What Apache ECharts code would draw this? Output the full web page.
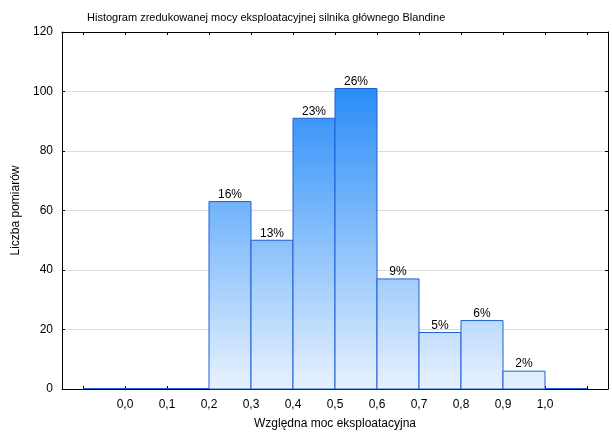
<!DOCTYPE html>
<html>
<head>
<meta charset="utf-8">
<script src="https://cdn.jsdelivr.net/npm/echarts@6/dist/echarts.min.js"></script>
<style>html,body{margin:0;padding:0;background:#fff;}#c{width:612px;height:435px;}</style>
</head>
<body>
<div id="c"></div>
<script>
var binStarts = [-0.1, 0.0, 0.1, 0.2, 0.3, 0.4, 0.5, 0.6, 0.7, 0.8, 0.9, 1.0];
var binEnds   = [0.0, 0.1, 0.2, 0.3, 0.4, 0.5, 0.6, 0.7, 0.8, 0.9, 1.0, 1.1];
var counts    = [0, 0, 0, 63, 50, 91, 101, 37, 19, 23, 6, 0];
var percents  = [null, null, null, 16, 13, 23, 26, 9, 5, 6, 2, null];
var xLabelValues = [0.0, 0.1, 0.2, 0.3, 0.4, 0.5, 0.6, 0.7, 0.8, 0.9, 1.0];
var xTickValues = [-0.1, 0.0, 0.1, 0.2, 0.3, 0.4, 0.5, 0.6, 0.7, 0.8, 0.9, 1.0, 1.1];

var FONT = 'Liberation Sans, Arial, sans-serif';
var chart = echarts.init(document.getElementById('c'));

var data = binStarts.map(function (s, i) { return [s, binEnds[i], counts[i], percents[i]]; });

var fillGrad = new echarts.graphic.LinearGradient(0, 88, 0, 389, [
  {offset: 0, color: '#2a8cf7'},
  {offset: 0.4, color: '#74b5fb'},
  {offset: 1, color: '#e8f2fe'}
], true);

function renderItem(params, api) {
  var x0 = api.value(0), x1 = api.value(1), v = api.value(2), p = api.value(3);
  var tl = api.coord([x0, v]);
  var br = api.coord([x1, 0]);
  var children = [];
  if (v > 0) {
    children.push({
      type: 'rect',
      shape: {x: tl[0], y: tl[1], width: br[0] - tl[0], height: br[1] - tl[1]},
      style: {fill: fillGrad, stroke: '#1f5ed6', lineWidth: 1}
    });
  } else {
    children.push({
      type: 'line',
      shape: {x1: tl[0], y1: br[1] - 0.5, x2: br[0], y2: br[1] - 0.5},
      style: {stroke: '#1f5ed6', lineWidth: 1}
    });
  }
  if (p != null && !isNaN(p)) {
    children.push({
      type: 'text',
      style: {
        text: p + '%', x: (tl[0] + br[0]) / 2, y: tl[1] - 1,
        align: 'center', verticalAlign: 'bottom',
        fill: '#000', font: '12px ' + FONT
      }
    });
  }
  return {type: 'group', children: children};
}

var xCommon = {
  type: 'value', min: -0.15, max: 1.15,
  splitLine: {show: false},
  axisLine: {show: true, onZero: false, lineStyle: {color: '#000', width: 1}}
};

chart.setOption({
  animation: false,
  title: {
    text: 'Histogram zredukowanej mocy eksploatacyjnej silnika głównego Blandine',
    left: 82, top: 7,
    textStyle: {fontFamily: FONT, fontSize: 11, fontWeight: 'normal', color: '#000'}
  },
  grid: {left: 62, right: 4, top: 32, bottom: 46},
  xAxis: [
    Object.assign({}, xCommon, {
      position: 'bottom',
      name: 'Względna moc eksploatacyjna', nameLocation: 'middle', nameGap: 29,
      nameTextStyle: {fontFamily: FONT, fontSize: 12, color: '#000'},
      axisTick: {show: true, inside: true, length: 3, customValues: xTickValues, lineStyle: {color: '#000'}},
      axisLabel: {show: true, customValues: xLabelValues, margin: 10,
        fontFamily: FONT, fontSize: 12, color: '#000',
        formatter: function (v) { return v.toFixed(1).replace('.', ','); }}
    }),
    Object.assign({}, xCommon, {
      position: 'top',
      axisTick: {show: true, inside: true, length: 3, customValues: xTickValues, lineStyle: {color: '#000'}},
      axisLabel: {show: false}
    })
  ],
  yAxis: [
    {
      type: 'value', min: 0, max: 120, interval: 20, position: 'left',
      name: 'Liczba pomiarów', nameLocation: 'middle', nameGap: 37,
      nameTextStyle: {fontFamily: FONT, fontSize: 12, color: '#000'},
      axisLine: {show: true, onZero: false, lineStyle: {color: '#000'}},
      axisTick: {show: true, inside: true, length: 3, lineStyle: {color: '#000'}},
      axisLabel: {fontFamily: FONT, fontSize: 12, color: '#000', margin: 9},
      splitLine: {show: true, lineStyle: {color: '#dcdcdc', width: 1}}
    },
    {
      type: 'value', min: 0, max: 120, interval: 20, position: 'right',
      axisLine: {show: true, onZero: false, lineStyle: {color: '#000'}},
      axisTick: {show: true, inside: true, length: 3, lineStyle: {color: '#000'}},
      axisLabel: {show: false},
      splitLine: {show: false}
    }
  ],
  series: [{
    type: 'custom',
    renderItem: renderItem,
    encode: {x: [0, 1], y: 2},
    data: data,
    clip: false
  }]
});
</script>
</body>
</html>
